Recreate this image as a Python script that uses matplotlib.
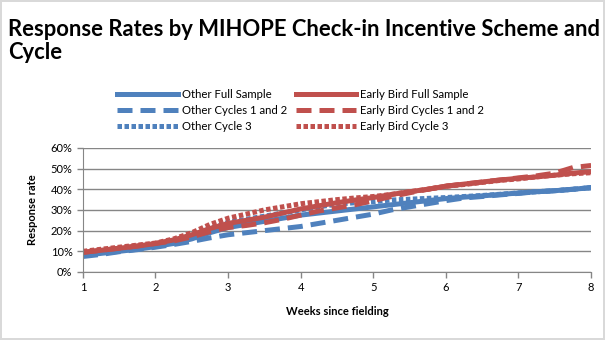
import numpy as np
import matplotlib
matplotlib.use('Agg')
import matplotlib.pyplot as plt
from matplotlib.ticker import PercentFormatter

plt.rcParams['font.family'] = ['Lato', 'DejaVu Sans']

# weeks since fielding, quarter-week steps
weeks = np.arange(1, 8.01, 0.25)

other_full = [8.0, 9.0, 10.0, 11.0, 12.3, 13.8, 16.0, 19.0, 21.5, 23.0, 24.5, 26.0, 27.5,
              28.5, 29.5, 30.5, 31.5, 32.5, 33.5, 34.5, 35.5, 36.2, 36.8, 37.5, 38.2,
              38.8, 39.3, 40.0, 40.8]
other_c12 = [7.5, 8.5, 9.8, 10.8, 12.0, 13.3, 14.8, 16.5, 18.0, 19.0, 20.0, 21.0, 22.0,
             23.5, 25.0, 26.5, 28.0, 30.0, 31.5, 33.0, 34.5, 35.8, 36.5, 37.3, 38.0,
             38.8, 39.3, 40.0, 40.8]
other_c3 = [8.5, 9.5, 10.5, 11.7, 13.0, 14.5, 17.5, 21.0, 24.0, 25.5, 27.0, 28.5, 30.0,
            31.5, 32.8, 33.5, 34.0, 34.8, 35.2, 35.6, 36.0, 36.5, 37.0, 37.6, 38.2,
            38.8, 39.3, 40.0, 40.8]
early_full = [9.5, 10.5, 11.5, 12.5, 13.8, 15.5, 18.0, 21.0, 23.5, 25.0, 26.5, 28.5, 30.5,
              32.0, 33.5, 34.8, 36.0, 37.5, 38.8, 40.0, 41.5, 42.5, 43.5, 44.5, 45.3,
              46.0, 46.8, 47.8, 48.5]
early_c12 = [9.5, 10.5, 11.5, 12.6, 13.8, 15.0, 17.0, 19.5, 21.5, 22.5, 23.8, 25.5, 27.5,
             29.5, 31.0, 32.5, 34.5, 36.5, 38.3, 40.0, 41.5, 42.5, 43.5, 44.5, 45.5,
             46.5, 47.8, 50.5, 51.5]
early_c3 = [10.0, 11.0, 12.0, 13.0, 14.0, 16.0, 19.0, 23.0, 26.0, 28.0, 30.0, 31.5, 33.0,
            34.0, 35.0, 35.8, 36.5, 37.5, 38.8, 40.0, 41.5, 42.3, 43.3, 44.3, 45.0,
            46.0, 46.8, 47.5, 48.0]

blue = '#4F81BD'
red = '#C0504D'
lw = 3.6

fig = plt.figure(figsize=(6.05, 3.4), dpi=100)
fig.patch.set_edgecolor('#D9D9D9')
fig.patch.set_linewidth(1.5)
ax = fig.add_axes([0.137, 0.2, 0.84, 0.365])

ax.plot(weeks, other_full, color=blue, lw=lw, label='Other Full Sample')
ax.plot(weeks, other_c12, color=blue, lw=lw, dashes=(3, 1.6), label='Other Cycles 1 and 2')
ax.plot(weeks, other_c3, color=blue, lw=lw, dashes=(0.9, 0.5), label='Other Cycle 3')
ax.plot(weeks, early_full, color=red, lw=lw, label='Early Bird Full Sample')
ax.plot(weeks, early_c12, color=red, lw=lw, dashes=(3, 1.6), label='Early Bird Cycles 1 and 2')
ax.plot(weeks, early_c3, color=red, lw=lw, dashes=(0.9, 0.5), label='Early Bird Cycle 3')

ax.set_xlim(1, 8)
ax.set_ylim(0, 60)
ax.set_yticks(np.arange(0, 61, 10))
ax.yaxis.set_major_formatter(PercentFormatter(decimals=0))
ax.grid(axis='y', color='#868686', lw=1)
ax.set_axisbelow(True)
for s in ['top', 'right']:
    ax.spines[s].set_visible(False)
for s in ['left', 'bottom']:
    ax.spines[s].set_color('#868686')
ax.tick_params(colors='#868686', labelcolor='black', labelsize=8, length=4, width=1)

ax.set_xlabel('Weeks since fielding', fontsize=8, fontweight='bold', labelpad=9)
ax.set_ylabel('Response rate', fontsize=8, fontweight='bold', labelpad=9)

fig.text(0.013, 0.945, 'Response Rates by MIHOPE Check-in Incentive Scheme and\nCycle',
         fontsize=15.8, fontweight='bold', va='top', ha='left', linespacing=1.15)

fig.legend(loc='center', bbox_to_anchor=(0.497, 0.676), ncol=2, frameon=False,
           fontsize=8.2, handlelength=5.3, columnspacing=0.8, labelspacing=0.45,
           handletextpad=0.35)

fig.savefig('out.png', dpi=100)
